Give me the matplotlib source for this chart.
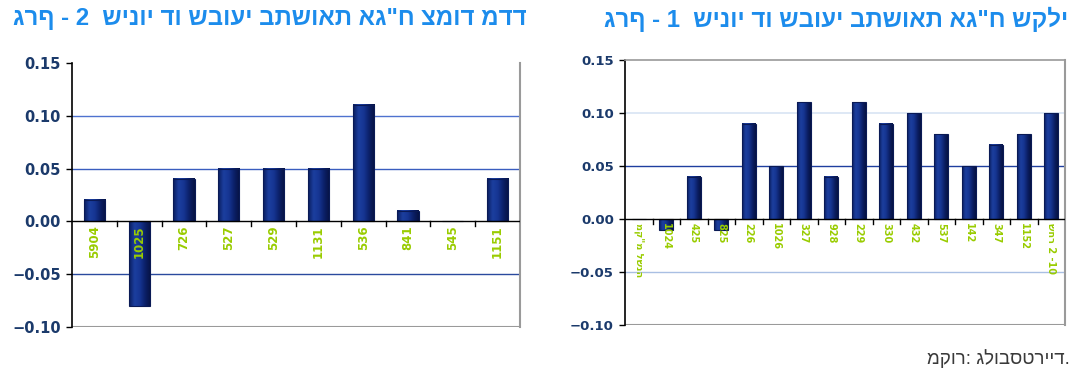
import numpy as np
import matplotlib
matplotlib.use("Agg")
import matplotlib.pyplot as plt
from matplotlib.ticker import FixedLocator, FuncFormatter
from matplotlib.colors import LinearSegmentedColormap

plt.rcParams['font.family'] = ['DejaVu Sans']

# ---------------- data ----------------
title_left = 'גרף - 2  שינוי דו שבועי בתשואת אג"ח צמוד מדד'
title_right = 'גרף - 1  שינוי דו שבועי בתשואת אג"ח שקלי'
source_text = 'מקור: גלובסטרייד.'

left_labels = ['5904', '1025', '726', '527', '529', '1131', '536', '841', '545', '1151']
left_values = [0.02, -0.08, 0.04, 0.05, 0.05, 0.05, 0.11, 0.01, 0.0, 0.04]

right_labels = ['מק"מ לשנה', '1024', '425', '825', '226', '1026', '327', '928',
                '229', '330', '432', '537', '142', '347', '1152', 'שחר 2 -10']
right_values = [0.0, -0.01, 0.04, -0.01, 0.09, 0.05, 0.11, 0.04,
                0.11, 0.09, 0.10, 0.08, 0.05, 0.07, 0.08, 0.10]

y_ticks = [-0.10, -0.05, 0.00, 0.05, 0.10, 0.15]

W, H = 1082, 382
fig = plt.figure(figsize=(W / 100, H / 100), dpi=100)

bar_edge = '#0a1a55'
tick_col = '#1b3a6b'
lab_col = '#99cc00'
title_col = '#1c8cec'
heb_fonts = ['Liberation Sans', 'DejaVu Sans']
bar_cmap = LinearSegmentedColormap.from_list(
    'bar', ['#0a1d5e', '#1c3f9f', '#163592', '#0b1f66', '#061242'])
grad = np.linspace(0, 1, 64).reshape(1, -1)


def setup(ax, values, labels, width, rot, lab_size, ytick_size, grids, top_line):
    x = list(range(len(values)))
    bars = ax.bar(x, values, width=width, color='none', edgecolor=bar_edge,
                  linewidth=0.8, zorder=3)
    for b in bars:
        h = b.get_height()
        if h == 0:
            continue
        x0 = b.get_x()
        y0, y1 = sorted([0, h])
        ax.imshow(grad, cmap=bar_cmap, aspect='auto', interpolation='bicubic',
                  extent=[x0, x0 + b.get_width(), y0, y1], zorder=2.9)
    ax.set_xlim(-0.5, len(values) - 0.5)
    ax.set_ylim(-0.10, 0.15)
    ax.set_aspect('auto')
    ax.yaxis.set_major_locator(FixedLocator(y_ticks))
    ax.yaxis.set_major_formatter(FuncFormatter(lambda v, p: f'{v:.2f}'.replace('-', '\u2212')))
    ax.tick_params(axis='y', labelsize=ytick_size, labelcolor=tick_col, length=4,
                   width=1, color='black', pad=4)
    for lab in ax.get_yticklabels():
        lab.set_fontweight('bold')
    ax.set_xticks([])
    ax.spines['bottom'].set_visible(False)
    ax.axhline(0, color='black', lw=1.0, zorder=4)
    for k in range(len(values) - 1):
        bx = k + 0.5
        ax.plot([bx, bx], [0, -0.0045], color='black', lw=1, zorder=4, clip_on=False)
    for yv, c, lw in grids:
        ax.axhline(yv, color=c, lw=lw, zorder=1)
    ax.axhline(-0.10, color='#9a9a9a', lw=1.5, zorder=2)
    ax.spines['left'].set_color('black')
    ax.spines['left'].set_linewidth(1.2)
    ax.spines['right'].set_color('#9a9a9a')
    ax.spines['right'].set_linewidth(1.5)
    ax.spines['top'].set_visible(top_line)
    ax.spines['top'].set_color('#9a9a9a')
    ax.spines['top'].set_linewidth(1.2)
    for i, lab in enumerate(labels):
        ax.text(i, -0.004, lab, rotation=rot, ha='center', va='top',
                color=lab_col, fontsize=lab_size, fontweight='bold', zorder=5)


axL = fig.add_axes([72 / W, 1 - 327 / H, 448 / W, 264 / H])
setup(axL, left_values, left_labels, 0.47, 90, 8.5, 10.5,
      [(0.10, '#4f72cf', 1.0), (0.05, '#3a5dbf', 1.0), (-0.05, '#2a4a9e', 1.0)],
      False)

axR = fig.add_axes([625 / W, 1 - 325 / H, 440 / W, 265 / H])
setup(axR, right_values, right_labels, 0.5, -90, 7, 9.5,
      [(0.10, '#dbe6f4', 1.3), (0.05, '#1f3f9f', 1.0), (-0.05, '#a9bfe3', 1.0)],
      True)

fig.text(527 / W, 1 - 19 / H, title_left, ha='right', va='center',
         fontsize=17.3, fontweight='bold', color=title_col, family=heb_fonts)
fig.text(1068 / W, 1 - 19 / H, title_right, ha='right', va='center',
         fontsize=17.3, fontweight='bold', color=title_col, family=heb_fonts)
fig.text(1070 / W, 1 - 359 / H, source_text, ha='right', va='center',
         fontsize=13.5, color='#3a3a3a', family=heb_fonts)

fig.savefig('out.png', dpi=100)
